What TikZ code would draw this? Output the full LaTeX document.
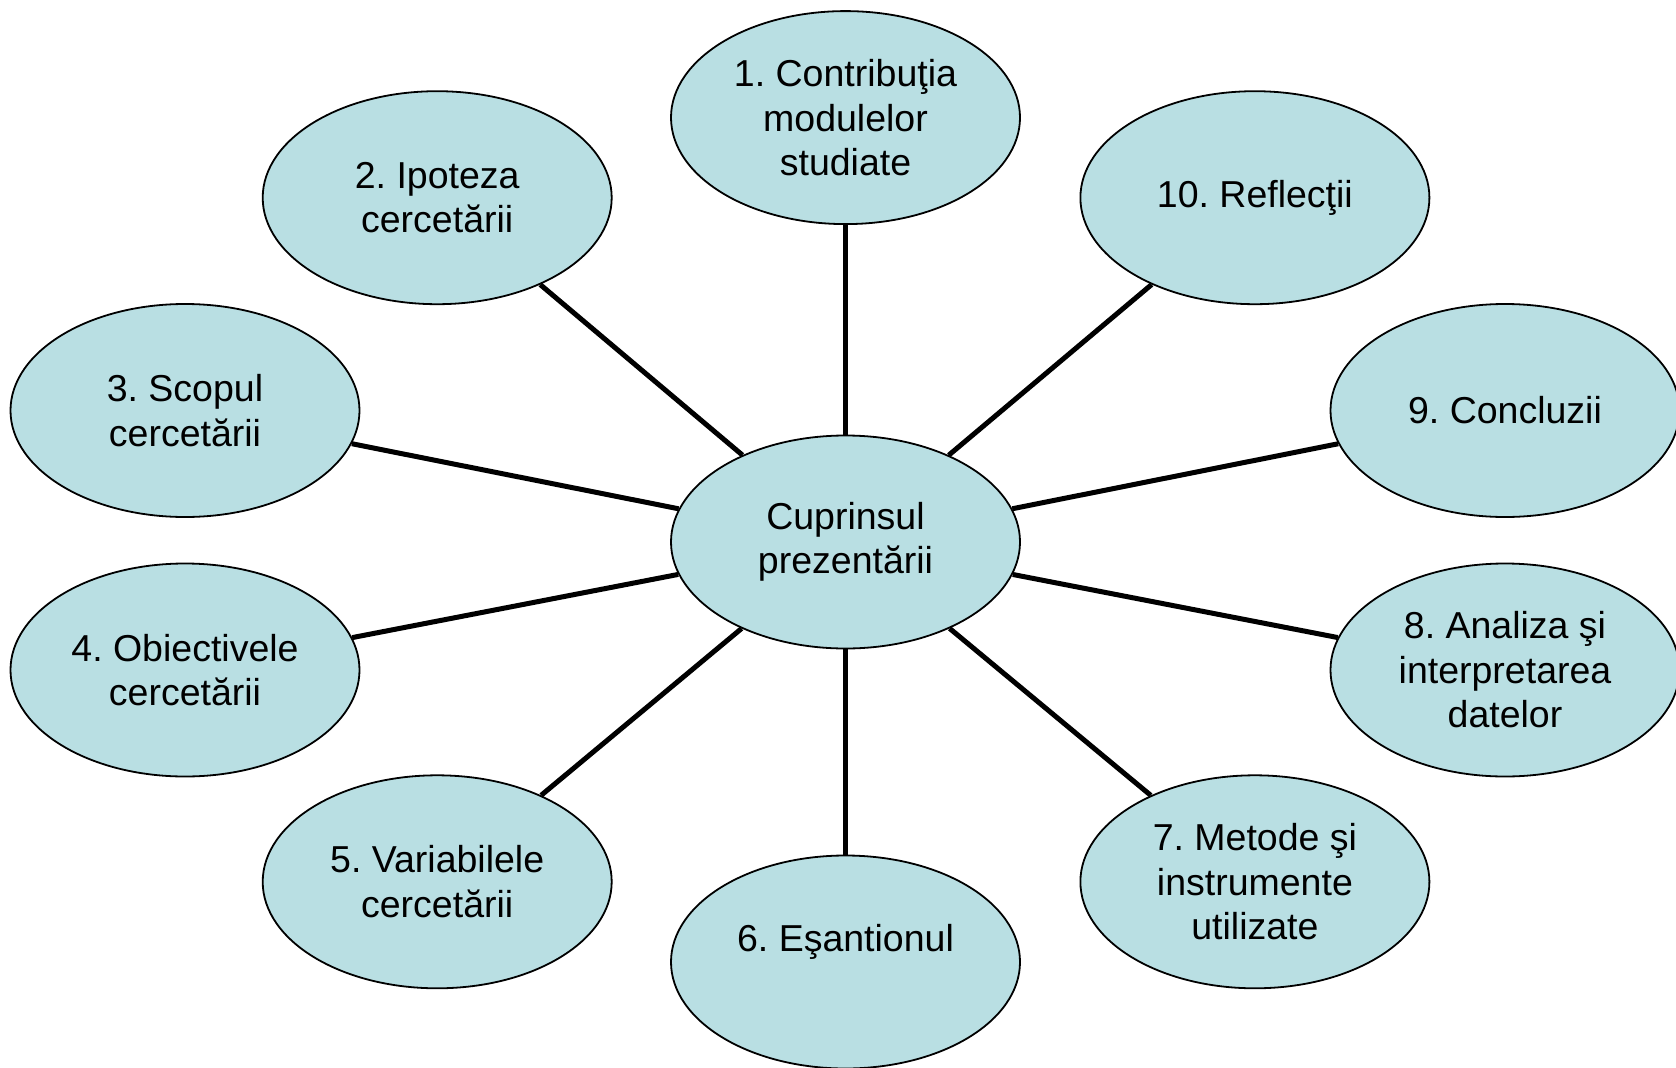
\documentclass[tikz,border=0pt]{standalone}
\usepackage{fontspec}
\setmainfont{Liberation Sans}
\usetikzlibrary{shapes.geometric}
\definecolor{bubble}{RGB}{185,223,227}
\frenchspacing
\begin{document}
\begin{tikzpicture}[x=1pt,y=-1pt,
  bub/.style={ellipse,draw=black,line width=1.8pt,fill=bubble,minimum width=349pt,minimum height=213pt,inner sep=0pt,align=center,font=\fontsize{37.5}{44.5}\selectfont},
  spoke/.style={line width=5pt,black}]
\useasboundingbox (0,0) rectangle (1676,1068);
\node[bub] (c) at (845.5,542) {Cuprinsul\\prezentării};
\node[bub] (n1) at (845.5,117.6) {1. Contribuţia\\modulelor\\studiate};
\node[bub] (n2) at (437.2,197.7) {2. Ipoteza\\cercetării};
\node[bub] (n3) at (185,410.5) {3. Scopul\\cercetării};
\node[bub] (n4) at (185,670) {4. Obiectivele\\cercetării};
\node[bub] (n5) at (437.2,881.8) {5. Variabilele\\cercetării};
\node[bub] (n6) at (845.5,962) {\raisebox{20pt}[\height][\depth]{6. Eşantionul}};
\node[bub] (n7) at (1254.9,881.8) {7. Metode şi\\instrumente\\utilizate};
\node[bub] (n8) at (1505,670) {8. Analiza şi\\interpretarea\\datelor};
\node[bub] (n9) at (1505,410.5) {9. Concluzii};
\node[bub] (n10) at (1254.9,197.7) {10. Reflecţii};
\foreach \n in {n1,n2,n3,n4,n5,n6,n7,n8,n9,n10}{\draw[spoke] (c) -- (\n);}
\end{tikzpicture}
\end{document}
